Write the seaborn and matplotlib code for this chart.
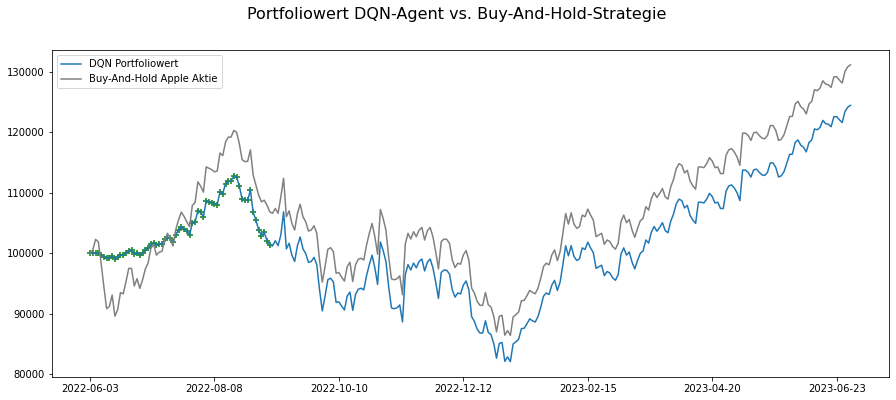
import matplotlib
matplotlib.use("Agg")
import matplotlib.pyplot as plt
import seaborn as sns

# portfolio values per trading day
dqn = [100000, 100000, 100000, 100000, 99780, 99450, 99180, 99180, 99560, 99070,
       99340, 99730, 99670, 100000, 100440, 100550, 99840, 100110, 99730, 100000,
       100490, 100820, 101530, 101750, 101320, 101530, 101530, 102300, 102580, 102470,
       101810, 103010, 103840, 104380, 104000, 103670, 103010, 105040, 105200, 107010,
       106800, 106030, 108660, 108550, 108380, 108220, 108060, 110140, 109860, 111510,
       111890, 111950, 112710, 112600, 111120, 108930, 108770, 108770, 110410, 106740,
       105480, 103840, 102900, 103450, 102080, 101370, 101210, 102080, 101260, 103010,
       106850,
       100730, 101660, 99680, 98650, 101250, 102700, 100730, 99950, 98490, 98650,
       99320, 98130, 93960, 90470, 92920, 95630, 95880, 95260, 91870, 91980,
       91250, 90630, 92920, 93590, 90570, 93180, 94060, 94220, 93960, 96300,
       98130, 99680, 97600, 94850, 101870, 100460, 98650, 94480, 90990, 90840,
       90990, 91460, 88660, 96450, 98130, 97240, 98380, 97600, 98650, 99060,
       97080, 98540, 99060, 97600, 95260, 92550, 96820, 97240, 97190, 96560,
       93960, 92760, 93440, 93280, 94740, 95420, 93960, 89540, 88750, 87450,
       86830, 86830, 88850, 86930, 86560, 85110, 82660, 85110, 85260, 82140,
       82870, 82090, 85010, 85370, 85790, 87550, 87610, 88340, 89170, 88850,
       88640, 89540, 91100, 92920, 93440, 93180, 94740, 95520, 93850, 95260,
       98130, 101250, 99580,
       101260, 99490, 98810, 99080, 100890, 100630, 101830, 100890, 100110, 97510,
       97780, 98030, 96310, 96990, 96730, 95950, 95540, 96480, 99860, 100890,
       99690, 100210, 98550, 97410, 98810, 100010, 100380, 102200, 101680, 103490,
       104430, 103650, 104280, 105050, 103750, 103390, 105310, 106460, 108180, 108950,
       108700, 107490, 107910, 106250, 105470, 104950, 108430, 108430, 108330, 108950,
       109890, 109370, 108330, 108430, 107400, 107400, 110260, 111130, 111300, 110780,
       109990, 108700, 113740, 113740, 113380, 112600, 113790, 113900, 113380, 112960,
       112860, 113380, 114940, 114940, 114160, 112600, 112810, 113530, 114940, 116340,
       116390, 118310, 118730, 117890, 117530, 116760, 118310, 118730, 120550, 120400,
       120810, 121960, 121430, 121330, 120910, 122580, 122580, 122060, 121600, 123410,
       124140, 124450]

buy_hold = [100000, 100550, 102300, 101900, 98400, 94500, 90850, 91200, 93100, 89600,
            90700, 93500, 93300, 95300, 97500, 97500, 94600, 95800, 94200, 95600,
            97400, 98400, 100800, 101500, 99700, 100200, 100300, 102100, 103300, 102500,
            101200, 103900, 105500, 106800, 106100, 105200, 104400, 107900, 108400, 111800,
            111100, 110100, 114270, 114050, 113830, 113450, 113600, 116570, 116130, 118375,
            119200, 119200, 120300, 120000, 118100, 115470, 115140, 115200, 117100, 112900,
            111250, 109600, 108500, 108770, 107950, 106850, 106600, 107400, 106600, 109300,
            112400,
            106030, 107010, 104930, 103840, 106580, 108110, 106030, 105210, 103670, 103840,
            104550, 103290, 98900, 95230, 97810, 100660, 100930, 100270, 96710, 96820,
            96050, 95400, 97810, 98520, 95340, 98080, 99010, 99180, 98900, 101370,
            103290, 104930, 102740, 99840, 107230, 105750, 103840, 99450, 95780, 95620,
            95780, 96270, 93150, 101530, 103290, 102360, 103560, 102740, 103840, 104270,
            102190, 103730, 104270, 102740, 100270, 97420, 101920, 102360, 102300, 101640,
            98900, 97640, 98360, 98190, 99730, 100440, 98900, 94250, 93420, 92050,
            91400, 91400, 93530, 91510, 91120, 89590, 87010, 89590, 89750, 86460,
            87230, 86410, 89480, 89860, 90300, 92160, 92220, 92990, 93860, 93530,
            93310, 94250, 95890, 97810, 98360, 98080, 99730, 100550, 98790, 100270,
            103290, 106580, 104820,
            106700, 104840, 104120, 104400, 106310, 106040, 107300, 106310, 105490, 102750,
            103030, 103300, 101490, 102200, 101930, 101110, 100670, 101660, 105220, 106310,
            105050, 105600, 103850, 102640, 104120, 105380, 105770, 107690, 107140, 109050,
            110040, 109220, 109880, 110700, 109330, 108950, 110970, 112180, 113990, 114810,
            114540, 113270, 113710, 111960, 111140, 110590, 114260, 114260, 114150, 114810,
            115800, 115250, 114150, 114260, 113170, 113170, 116180, 117110, 117280, 116730,
            115900, 114540, 119850, 119850, 119470, 118650, 119910, 120020, 119470, 119030,
            118920, 119470, 121110, 121110, 120290, 118650, 118870, 119630, 121110, 122590,
            122640, 124670, 125110, 124230, 123850, 123030, 124670, 125110, 127030, 126870,
            127300, 128510, 127960, 127850, 127410, 129170, 129170, 128620, 128130, 130040,
            130810, 131140]

days = list(range(len(dqn)))
buy_days = days[:66]
buy_values = dqn[:66]

tick_days = [0, 45, 90, 135, 180, 225, 270]
tick_labels = ['2022-06-03', '2022-08-08', '2022-10-10', '2022-12-12',
               '2023-02-15', '2023-04-20', '2023-06-23']

fig = plt.figure(figsize=(896 / 72, 400 / 72), dpi=72)
ax = fig.add_axes([52 / 896, 1 - 376.5 / 400, 836.5 / 896, 326.5 / 400])

# Buy-Signale liegen unter der blauen Linie
sns.scatterplot(x=buy_days, y=buy_values, marker='+', color='#2a9134',
                s=42, linewidth=1.8, zorder=1, ax=ax)
sns.lineplot(x=days, y=dqn, color='tab:blue', label='DQN Portfoliowert', zorder=2, ax=ax)
sns.lineplot(x=days, y=buy_hold, color='gray', label='Buy-And-Hold Apple Aktie', zorder=3, ax=ax)

ax.set_xticks(tick_days)
ax.set_xticklabels(tick_labels)
ax.legend(loc='upper left')
fig.suptitle('Portfoliowert DQN-Agent vs. Buy-And-Hold-Strategie', fontsize=16,
             x=457 / 896, y=1 - 14.5 / 400, va='center')

fig.savefig('out.png', dpi=72)
